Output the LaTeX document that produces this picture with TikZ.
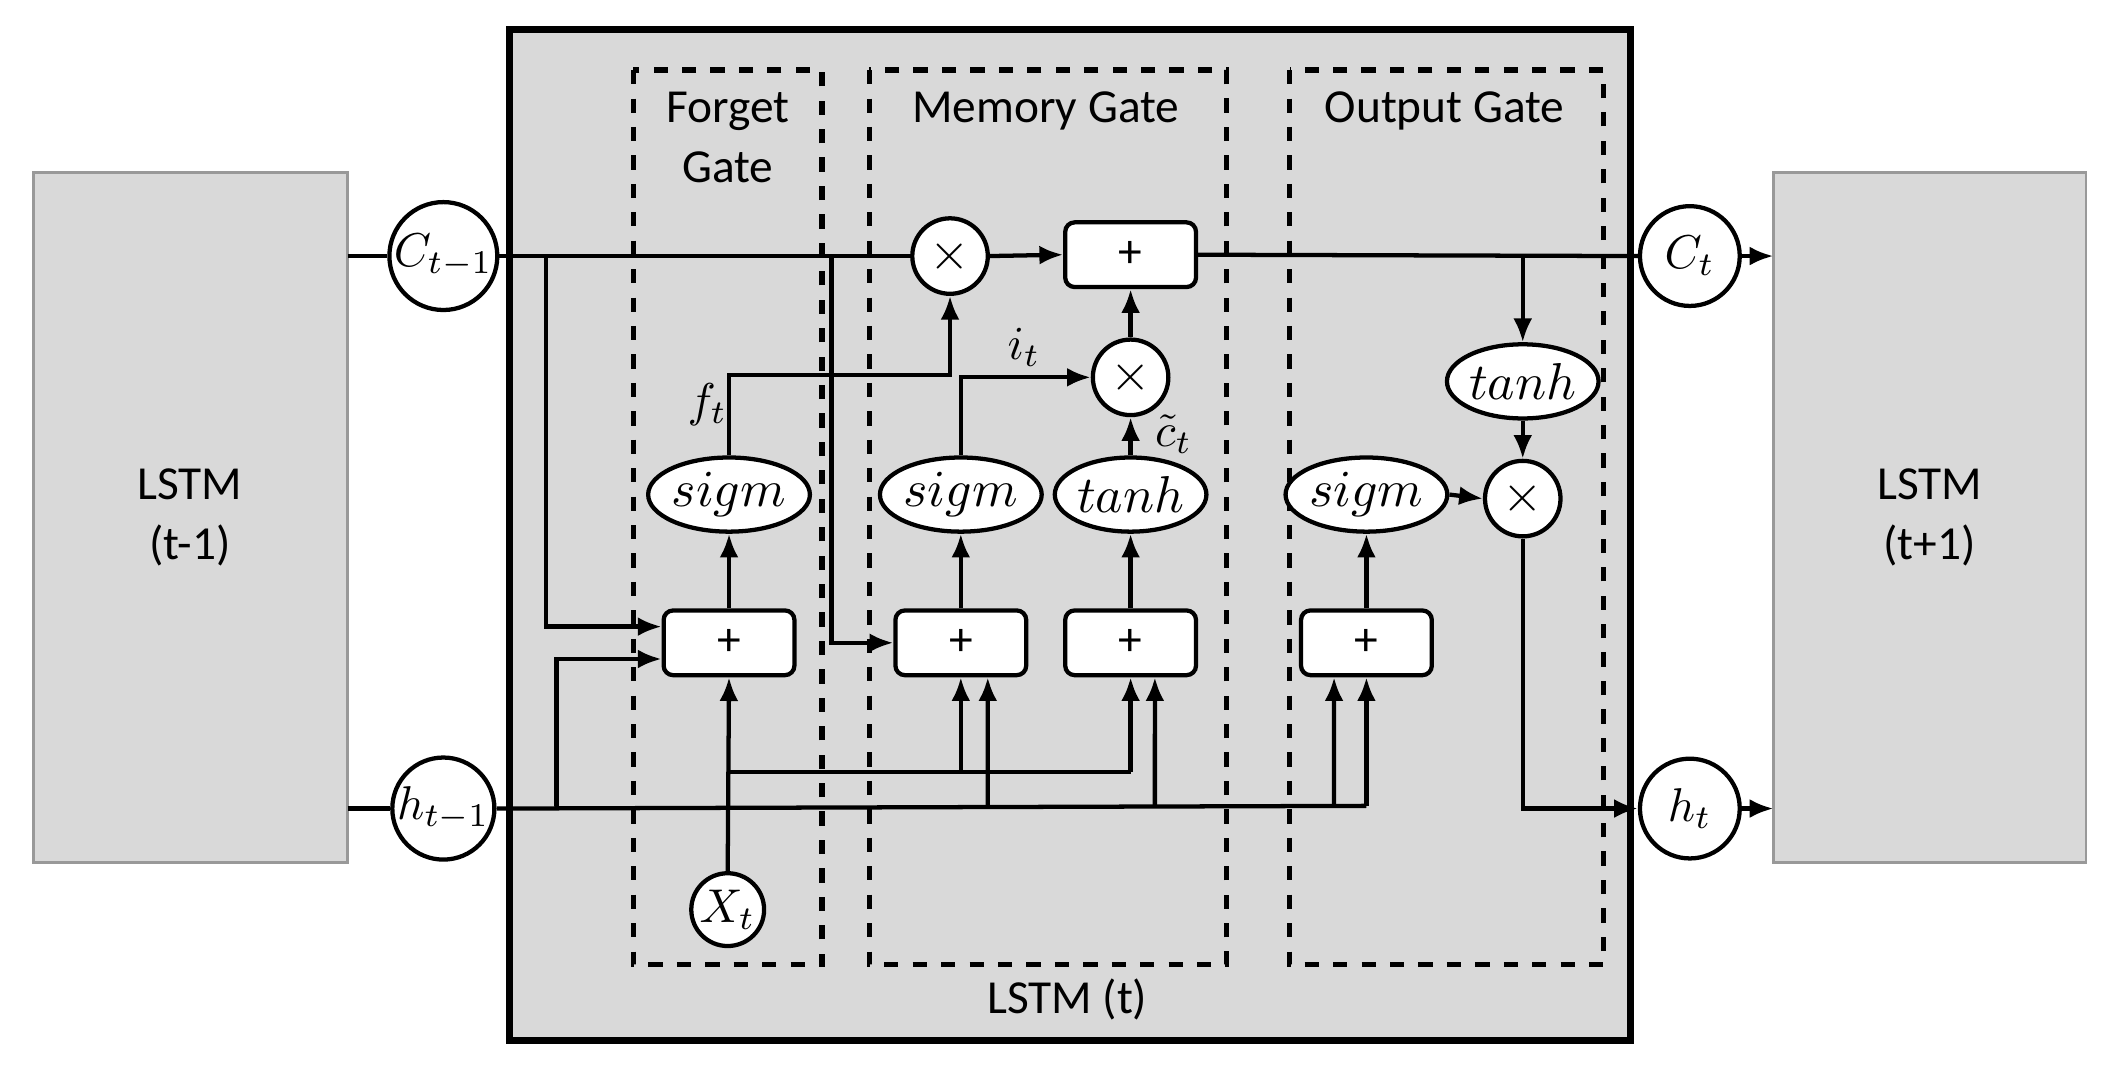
\documentclass[tikz,border=0pt]{standalone}
\usepackage{fontspec}
\setmainfont{Carlito}
\usetikzlibrary{arrows.meta,shapes.geometric}
\begin{document}
\begin{tikzpicture}[x=0.01cm,y=-0.01cm,
  line width=0.9pt, >={Latex[length=5pt,width=4pt]},
  outer/.style={draw=gray!80,fill=gray!30,line width=0.6pt},
  gate/.style={draw,dashed,line width=1.1pt},
  circ/.style={circle,draw,fill=white,minimum size=0.74cm,inner sep=0pt,font=\fontsize{10}{11}\selectfont},
  mul/.style={circle,draw,fill=white,minimum size=0.56cm,inner sep=0pt,font=\fontsize{11}{12}\selectfont},
  plus/.style={rectangle,rounded corners=2pt,draw,fill=white,minimum width=0.97cm,minimum height=0.48cm,font=\fontsize{10}{12}\selectfont},
  act/.style={ellipse,draw,fill=white,minimum width=0.9cm,minimum height=0.55cm,inner sep=0pt,font=\fontsize{10.5}{12}\selectfont},
  lbl/.style={font=\fontsize{10}{12.5}\selectfont,align=center}]
\useasboundingbox (0,0) rectangle (1568,799);
\fill[white] (0,0) rectangle (1568,799);
\draw[outer] (25,128) rectangle (258,640);
\draw[outer] (1316,128) rectangle (1548,640);
\node[lbl] (l1) at (141,384) {LSTM\\(t-1)};
\node[lbl] (l2) at (1432,384) {LSTM\\(t+1)};
\draw[line width=1.6pt,fill=gray!30] (378,22) rectangle (1210,772);
\draw[gate] (470,52) rectangle (610,716);
\draw[gate] (645,52) rectangle (910,716);
\draw[gate] (957,52) rectangle (1190,716);
\node[lbl] (tf) at (540,102) {Forget\\Gate};
\node[lbl] (tm) at (776,82) {Memory Gate};
\node[lbl] (to) at (1072,82) {Output Gate};
\node[lbl] (tl) at (792,742) {LSTM (t)};
% nodes
\node[circ] (cp) at (329,190) {$C_{t-1}$};
\node[circ] (hp) at (329,600) {$h_{t-1}$};
\node[circ] (ct) at (1254,190) {$C_t$};
\node[circ] (ht) at (1254,600) {$h_t$};
\node[circ,minimum size=0.54cm] (xt) at (540,675) {$X_t$};
\node[mul] (m1) at (705,190) {$\times$};
\node[mul] (m2) at (839,280) {$\times$};
\node[mul] (m3) at (1130,370) {$\times$};
\node[plus] (pc) at (839,189) {+};
\node[plus] (pf) at (541,477) {+};
\node[plus] (pi) at (713,477) {+};
\node[plus] (pg) at (839,477) {+};
\node[plus] (po) at (1014,477) {+};
\node[act] (sf) at (541,367) {$sigm$};
\node[act] (si) at (713,367) {$sigm$};
\node[act] (tg) at (839,367) {$tanh$};
\node[act] (so) at (1014,367) {$sigm$};
\node[act] (tc) at (1130,283) {$tanh$};
\coordinate (hL) at (258,600);
\coordinate (cL) at (258,190);
% cell line
\draw (cL) -- (cp.west);
\draw (hL) -- (hp.west);
\draw (cp.east) -- (m1.west);
\draw[->] (m1.east) -- (pc.west);
\draw (pc.east) -- (ct.west);
\draw[->] (ct.east) -- (1316,190);
\draw[->] (ht.east) -- (1316,600);
\draw[->] (405,190) |- ([yshift=0.12cm]pf.west);
\draw[->] (617,190) |- (pi.west);
\draw (hp.east) -- (1014,598);
\draw[->] (413,598) |- ([yshift=-0.12cm]pf.west);
\draw[->] (xt.north) -- (pf.south);
\draw (541,573) -- (839,573);
\draw[->] (713,573) -- (pi.south);
\draw[->] (839,573) -- (pg.south);
\draw[->] (733,598) -- ([xshift=0.2cm]pi.south);
\draw[->] (857,598) -- ([xshift=0.18cm]pg.south);
\draw[->] (990,598) -- ([xshift=-0.24cm]po.south);
\draw[->] (1014,598) -- (po.south);
\draw[->] (pf.north) -- (sf.south);
\draw[->] (pi.north) -- (si.south);
\draw[->] (pg.north) -- (tg.south);
\draw[->] (po.north) -- (so.south);
\draw[->] (sf.north) |- (705,278) -- (m1.south);
\node[lbl] (lf) at (525,300) {$f_t$};
\draw[->] (si.north) |- (m2.west);
\node[lbl] (li) at (760,258) {$i_t$};
\draw[->] (tg.north) -- (m2.south);
\node[lbl] (lc) at (871,322) {$\tilde{c}_t$};
\draw[->] (m2.north) -- (pc.south);
\draw[->] (1130,190) -- (tc.north);
\draw[->] (tc.south) -- (m3.north);
\draw[->] (so.east) -- (m3.west);
\draw[->] (m3.south) |- (ht.west);
\end{tikzpicture}
\end{document}
